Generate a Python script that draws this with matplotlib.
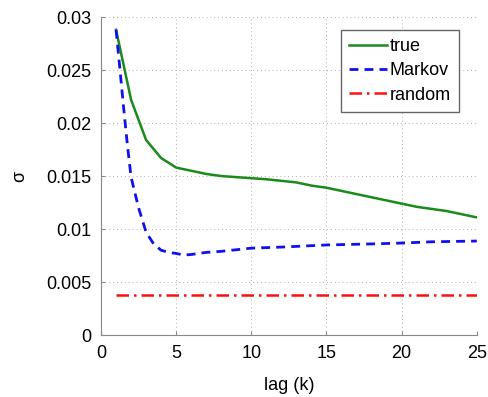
import numpy as np
import matplotlib.pyplot as plt

plt.rcParams['font.family'] = ['Liberation Sans', 'DejaVu Sans']

# sigma vs lag for the observed series
lag_true = list(range(1, 26))
sigma_true = [0.0288, 0.0222, 0.0184, 0.0167, 0.0158, 0.0155, 0.0152, 0.0150,
              0.0149, 0.0148, 0.0147, 0.01455, 0.0144, 0.0141, 0.0139, 0.0136,
              0.0133, 0.0130, 0.0127, 0.0124, 0.0121, 0.0119, 0.0117, 0.0114,
              0.0111]

# Markov model, sampled more finely near the start
lag_markov = [1, 1.25, 1.5, 1.75, 2, 2.5, 3, 3.5, 4, 4.5, 5, 5.5, 6, 7, 8,
              10, 12, 15, 18, 20, 22, 25]
sigma_markov = [0.0288, 0.0252, 0.0215, 0.0180, 0.0149, 0.0120, 0.0097, 0.0086,
                0.0080, 0.0078, 0.0077, 0.00755, 0.0076, 0.0078, 0.0079,
                0.0082, 0.0083, 0.0085, 0.0086, 0.00868, 0.0088, 0.00887]

# random baseline
lag_random = [1, 25]
sigma_random = [0.0038, 0.0038]

fig = plt.figure(figsize=(4.88, 3.97), dpi=100)
ax = fig.add_axes([0.207, 0.156, 0.770, 0.801])

ax.plot(lag_true, sigma_true, color='#1a8a1a', lw=1.8, label='true')
ax.plot(lag_markov, sigma_markov, color='#1010ee', lw=2.0, ls=(0, (3.2, 2.2)),
        label='Markov')
ax.plot(lag_random, sigma_random, color='#ff1010', lw=1.8,
        ls=(0, (5, 2, 1, 2)), label='random')

ax.set_xlim(0, 25)
ax.set_ylim(0, 0.03)
ax.set_xticks([0, 5, 10, 15, 20, 25])
ax.set_yticks([0, 0.005, 0.01, 0.015, 0.02, 0.025, 0.03])
ax.set_yticklabels(['0', '0.005', '0.01', '0.015', '0.02', '0.025', '0.03'])
ax.tick_params(direction='in', length=3, color='#888888', labelsize=13, pad=7)
ax.grid(True, ls=(0, (1, 3)), color='#b0b0b0', lw=0.7)

for side in ['top', 'right']:
    ax.spines[side].set_visible(False)
for side in ['left', 'bottom']:
    ax.spines[side].set_color('#888888')

ax.set_xlabel('lag (k)', fontsize=13, labelpad=11)
ax.set_ylabel('σ', fontsize=13, labelpad=13)

leg = ax.legend(loc='upper right', bbox_to_anchor=(0.952, 0.959),
                borderaxespad=0, fontsize=13,
                handlelength=2.1, handletextpad=0.15, borderpad=0.45,
                labelspacing=0.4, fancybox=False, framealpha=1)
leg.get_frame().set_edgecolor('#666666')
leg.get_frame().set_linewidth(1.0)

fig.savefig('out.png', dpi=100)
